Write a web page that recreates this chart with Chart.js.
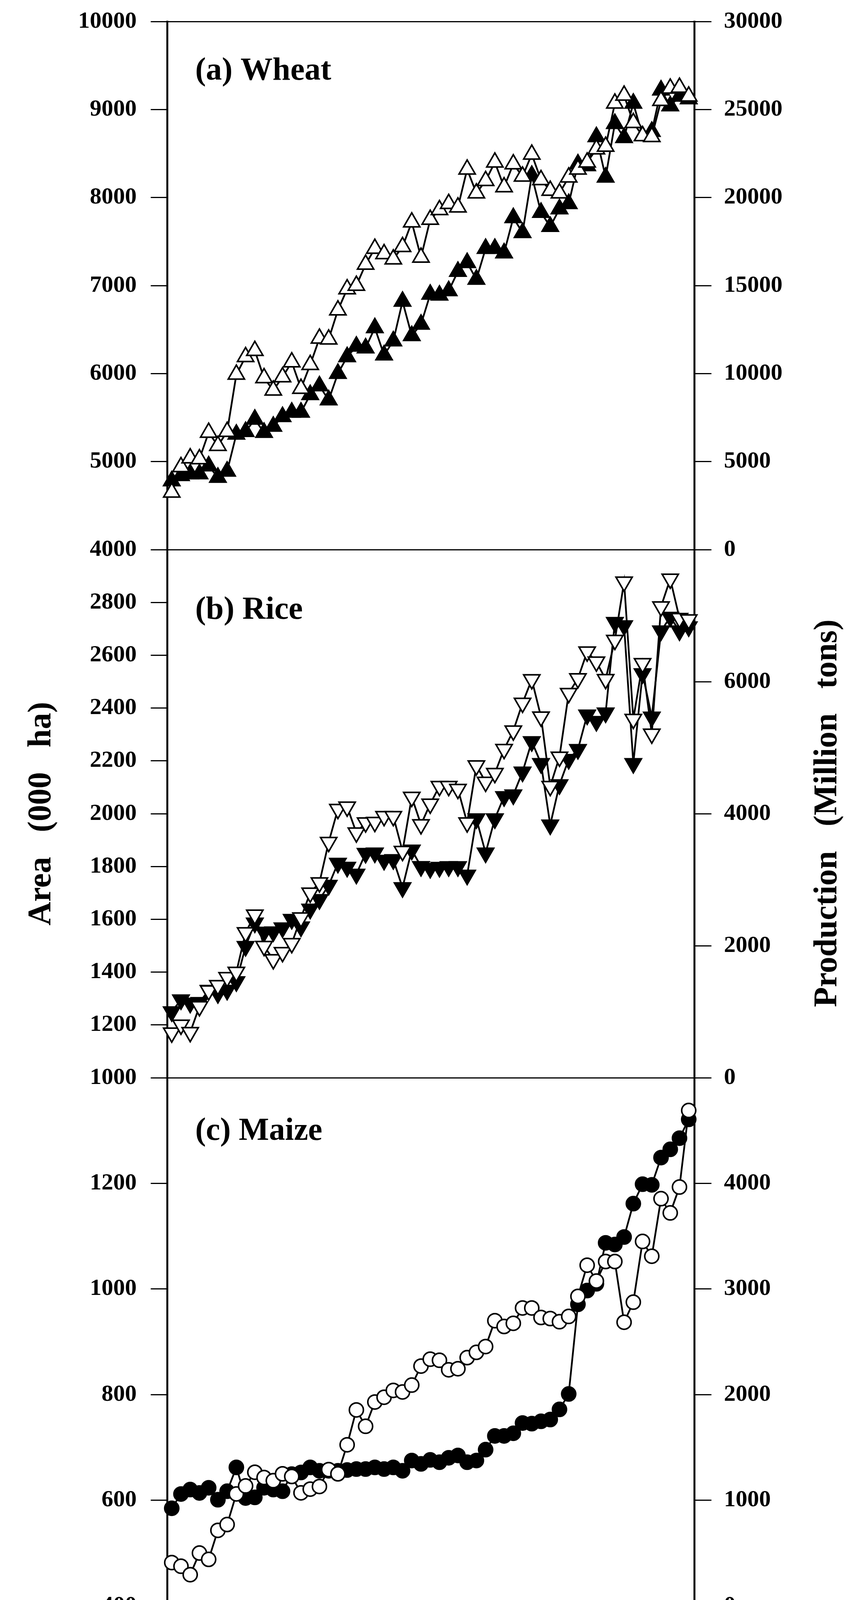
<!DOCTYPE html>
<html>
<head>
<meta charset="utf-8">
<script src="https://cdn.jsdelivr.net/npm/chart.js@4.4.1/dist/chart.umd.min.js"></script>
<style>
  html, body { margin: 0; padding: 0; background: #fff; }
  #wrap { width: 2182px; height: 4697px; }
</style>
</head>
<body>
<div id="wrap"><canvas id="cropChart" width="2182" height="4697"></canvas></div>
<script>
// years on the x axis
const years = [1960, 1961, 1962, 1963, 1964, 1965, 1966, 1967, 1968, 1969,
  1970, 1971, 1972, 1973, 1974, 1975, 1976, 1977, 1978, 1979,
  1980, 1981, 1982, 1983, 1984, 1985, 1986, 1987, 1988, 1989,
  1990, 1991, 1992, 1993, 1994, 1995, 1996, 1997, 1998, 1999,
  2000, 2001, 2002, 2003, 2004, 2005, 2006, 2007, 2008, 2009,
  2010, 2011, 2012, 2013, 2014, 2015, 2016];

// (a) wheat: area (000 ha) and production
const wheatArea = [4650, 4940, 5040, 5030, 5330, 5180, 5340, 5990, 6190, 6260,
  5950, 5810, 5960, 6130, 5830, 6100, 6400, 6390, 6720, 6960,
  7000, 7240, 7420, 7360, 7300, 7440, 7720, 7320, 7750, 7860,
  7930, 7890, 8320, 8050, 8190, 8400, 8120, 8380, 8240, 8490,
  8200, 8080, 8050, 8230, 8320, 8400, 8550, 8580, 9070, 9160,
  8850, 8700, 8690, 9100, 9240, 9250, 9150];
const wheatProd = [3900, 4200, 4300, 4300, 4750, 4100, 4450, 6550, 6700, 7400,
  6650, 7000, 7550, 7800, 7800, 8800, 9300, 8500, 10000, 10950,
  11550, 11450, 12600, 11050, 11850, 14100, 12150, 12800, 14500, 14450,
  14700, 15800, 16300, 15350, 17100, 17100, 16850, 18850, 18000, 21250,
  19150, 18350, 19350, 19650, 21900, 21800, 23450, 21150, 24200, 23400,
  25350, 23500, 23750, 26100, 25200, 25750, 25600];

// (b) rice
const riceArea = [1170, 1200, 1172, 1270, 1330, 1350, 1380, 1400, 1550, 1617,
  1498, 1448, 1475, 1509, 1606, 1700, 1739, 1892, 2017, 2026,
  1928, 1966, 1968, 1990, 1990, 1858, 2063, 1959, 2037, 2104,
  2104, 2093, 1966, 2182, 2120, 2153, 2244, 2314, 2419, 2508,
  2367, 2104, 2215, 2456, 2512, 2613, 2575, 2509, 2657, 2878,
  2358, 2569, 2302, 2784, 2889, 2740, 2735];
const riceProd = [1000, 1180, 1130, 1140, 1325, 1275, 1325, 1455, 1990, 2345,
  2205, 2210, 2270, 2400, 2285, 2555, 2700, 2915, 3250, 3190,
  3085, 3400, 3405, 3295, 3305, 2880, 3450, 3200, 3172, 3188,
  3198, 3198, 3069, 3923, 3405, 3923, 4259, 4285, 4632, 5092,
  4761, 3830, 4440, 4823, 4973, 5496, 5398, 5527, 6898, 6847,
  4761, 6122, 5465, 6769, 6976, 6769, 6831];

// (c) maize
const maizeArea = [482, 475, 459, 500, 488, 543, 554, 612, 627, 653,
  643, 637, 650, 645, 614, 621, 626, 658, 650, 705,
  771, 740, 786, 795, 808, 805, 818, 854, 867, 865,
  847, 849, 870, 880, 891, 940, 929, 935, 964, 964,
  946, 944, 938, 948, 986, 1045, 1015, 1052, 1052, 937,
  975, 1090, 1062, 1171, 1144, 1193, 1338];
const maizeProd = [924, 1059, 1101, 1069, 1118, 1005, 1085, 1311, 1021, 1027,
  1118, 1101, 1085, 1247, 1263, 1311, 1279, 1279, 1279, 1286,
  1295, 1295, 1311, 1295, 1311, 1279, 1376, 1344, 1382, 1360,
  1402, 1424, 1360, 1376, 1479, 1609, 1609, 1634, 1731, 1725,
  1747, 1764, 1860, 2006, 2855, 2985, 3049, 3437, 3421, 3492,
  3808, 3992, 3986, 4244, 4322, 4428, 4606];

// tick values
const xTicks = [1960, 1970, 1980, 1990, 2000, 2010];
const wheatAreaTicks = [4000, 5000, 6000, 7000, 8000, 9000, 10000];
const wheatProdTicks = [0, 5000, 10000, 15000, 20000, 25000, 30000];
const riceAreaTicks = [1000, 1200, 1400, 1600, 1800, 2000, 2200, 2400, 2600, 2800, 3000];
const riceProdTicks = [0, 2000, 4000, 6000, 8000];
const maizeAreaTicks = [400, 600, 800, 1000, 1200, 1400];
const maizeProdTicks = [0, 1000, 2000, 3000, 4000, 5000];

const panelLabels = ['(a) Wheat', '(b) Rice', '(c) Maize'];

const SERIF = "'Liberation Serif', 'Times New Roman', serif";

function series(vals) {
  return years.map((yr, i) => ({ x: yr, y: vals[i] }));
}

function line(label, vals, axis, style, filled, rot) {
  return {
    label: label,
    data: series(vals),
    yAxisID: axis,
    borderColor: '#000',
    borderWidth: 4.5,
    tension: 0,
    fill: false,
    clip: false,
    pointStyle: style,
    pointRotation: rot || 0,
    pointRadius: style === 'circle' ? 18 : 24,
    pointBorderWidth: 4,
    pointBorderColor: '#000',
    pointBackgroundColor: filled ? '#000' : '#fff'
  };
}

// y axis for one panel; hideTop drops the label where two panels meet
function yAxis(pos, weight, tickList, hideTop) {
  const min = tickList[0];
  const max = tickList[tickList.length - 1];
  const left = pos === 'left';
  return {
    type: 'linear',
    position: pos,
    stack: pos,
    stackWeight: 1,
    weight: weight,
    min: min,
    max: max,
    afterBuildTicks: s => { s.ticks = tickList.map(v => ({ value: v })); },
    afterFit: s => { s.width = left ? 428 : 404; s.paddingTop = 0; s.paddingBottom = 0; },
    border: { display: true, color: '#000', width: 5 },
    grid: {
      drawOnChartArea: left,
      color: c => (c.tick && c.tick.value === max) ? '#000' : 'rgba(0,0,0,0)',
      lineWidth: 3,
      drawTicks: true,
      tickLength: left ? 42 : 44,
      tickWidth: 3,
      tickColor: '#000'
    },
    ticks: {
      color: '#000',
      padding: left ? 36 : 32,
      font: { family: SERIF, size: 60, weight: 'bold' },
      callback: v => (hideTop && v === max) ? '' : String(v)
    },
    title: { display: false }
  };
}

const leftTitle = {
  display: true,
  text: 'Area   (000   ha)',
  color: '#000',
  font: { family: SERIF, size: 84, weight: 'bold', lineHeight: 1.2 },
  padding: { top: 57, bottom: 0 }
};

// text that Chart.js has no slot for: panel names, right title, legend
const extrasPlugin = {
  id: 'extras',
  afterDraw(chart) {
    const ctx = chart.ctx;
    ctx.save();
    ctx.fillStyle = '#000';
    ctx.textAlign = 'left';
    ctx.textBaseline = 'alphabetic';
    ctx.font = 'bold 82px ' + SERIF;
    const labelY = [204, 1584, 2918];
    panelLabels.forEach((t, i) => ctx.fillText(t, 500, labelY[i]));

    // right-hand title reads bottom to top like the left one
    ctx.save();
    ctx.translate(2120, 2082);
    ctx.rotate(-Math.PI / 2);
    ctx.textAlign = 'center';
    ctx.textBaseline = 'middle';
    ctx.font = 'bold 84px ' + SERIF;
    ctx.fillText('Production   (Million   tons)', 0, 0);
    ctx.restore();

    // legend, three columns of two
    const items = [
      { ds: 0, x0: 17, x1: 174, tx: 209, y: 4523 },
      { ds: 1, x0: 17, x1: 174, tx: 209, y: 4612 },
      { ds: 2, x0: 783, x1: 939, tx: 974, y: 4536 },
      { ds: 3, x0: 783, x1: 939, tx: 974, y: 4624 },
      { ds: 4, x0: 1457, x1: 1611, tx: 1646, y: 4536 },
      { ds: 5, x0: 1457, x1: 1611, tx: 1646, y: 4624 }
    ];
    items.forEach(it => {
      const d = chart.data.datasets[it.ds];
      ctx.strokeStyle = '#000';
      ctx.lineWidth = 6;
      ctx.beginPath();
      ctx.moveTo(it.x0, it.y);
      ctx.lineTo(it.x1, it.y);
      ctx.stroke();
      const cx = (it.x0 + it.x1) / 2;
      ctx.beginPath();
      if (d.pointStyle === 'circle') {
        ctx.arc(cx, it.y, d.pointRadius, 0, Math.PI * 2);
      } else {
        let rad = (d.pointRotation || 0) * Math.PI / 180;
        const r = d.pointRadius;
        for (let k = 0; k < 3; k++) {
          const px = cx + Math.sin(rad) * r;
          const py = it.y - Math.cos(rad) * r;
          if (k === 0) ctx.moveTo(px, py); else ctx.lineTo(px, py);
          rad += Math.PI * 2 / 3;
        }
        ctx.closePath();
      }
      ctx.fillStyle = d.pointBackgroundColor;
      ctx.fill();
      ctx.lineWidth = 4;
      ctx.stroke();
      ctx.fillStyle = '#000';
      ctx.font = '66px ' + SERIF;
      ctx.textAlign = 'left';
      ctx.textBaseline = 'middle';
      ctx.fillText(d.label, it.tx, it.y);
    });
    ctx.restore();
  }
};

const scales = {
  x: {
    type: 'linear',
    position: 'bottom',
    min: 1959.5,
    max: 2016.6,
    afterBuildTicks: s => { s.ticks = xTicks.map(v => ({ value: v })); },
    afterFit: s => { s.height = 586; },
    border: { display: true, color: '#000', width: 5 },
    grid: { drawOnChartArea: false, drawTicks: true, tickLength: 32, tickWidth: 3, tickColor: '#000' },
    ticks: {
      color: '#000',
      padding: 30,
      maxRotation: 0,
      font: { family: SERIF, size: 64, weight: 'bold' },
      callback: v => String(v)
    },
    title: {
      display: true,
      text: 'Years',
      color: '#000',
      font: { family: SERIF, size: 80, weight: 'bold', lineHeight: 1.2 },
      padding: { top: 0, bottom: 277 }
    }
  },
  yWA: yAxis('left', 3, wheatAreaTicks, false),
  yRA: Object.assign(yAxis('left', 2, riceAreaTicks, true), { title: leftTitle }),
  yMA: yAxis('left', 1, maizeAreaTicks, true),
  yWP: yAxis('right', 1, wheatProdTicks, false),
  yRP: yAxis('right', 2, riceProdTicks, true),
  yMP: yAxis('right', 3, maizeProdTicks, true)
};

new Chart(document.getElementById('cropChart'), {
  type: 'line',
  data: {
    datasets: [
      line('Wheat area', wheatArea, 'yWA', 'triangle', false),
      line('Wheat production', wheatProd, 'yWP', 'triangle', true),
      line('Rice area', riceArea, 'yRA', 'triangle', false, 180),
      line('Rice production', riceProd, 'yRP', 'triangle', true, 180),
      line('Maize area', maizeArea, 'yMA', 'circle', false),
      line('Maize production', maizeProd, 'yMP', 'circle', true)
    ]
  },
  options: {
    responsive: false,
    devicePixelRatio: 1,
    animation: false,
    layout: { padding: { top: 55, left: 0, right: 0, bottom: 0 } },
    plugins: {
      legend: { display: false },
      tooltip: { enabled: false },
      title: { display: false }
    },
    scales: scales
  },
  plugins: [extrasPlugin]
});
</script>
</body>
</html>
